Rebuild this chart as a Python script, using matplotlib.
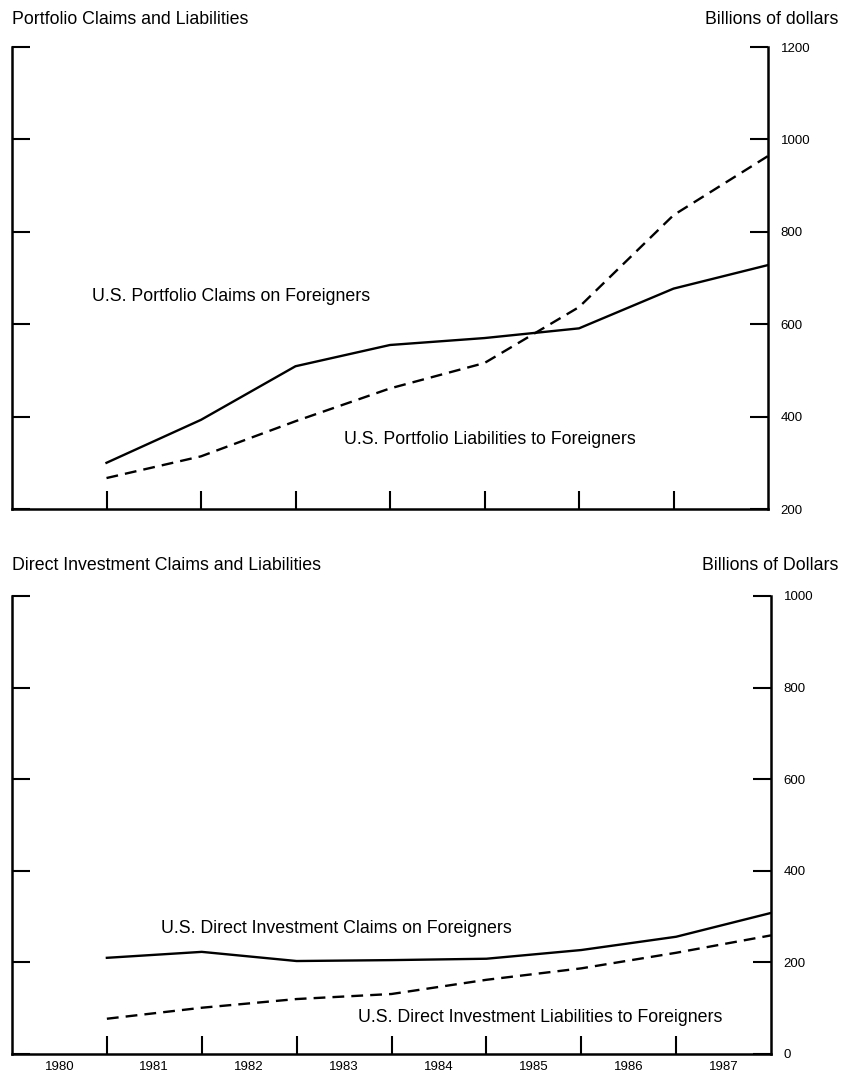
import matplotlib
matplotlib.use('Agg')
from matplotlib import pyplot as plt
import numpy as np

plt.rcParams['font.family'] = ['Liberation Sans', 'DejaVu Sans']

# year-end positions, 1980 .. 1987
years = np.array([1981, 1982, 1983, 1984, 1985, 1986, 1987, 1988])
year_labels = ['1980', '1981', '1982', '1983', '1984', '1985', '1986', '1987']

port_claims = [300, 393, 509, 555, 570, 591, 677, 728]
port_liab = [267, 314, 390, 461, 516, 637, 836, 964]

direct_claims = [210, 223, 203, 205, 208, 227, 256, 308]
direct_liab = [77, 101, 120, 131, 162, 187, 221, 259]

fig = plt.figure(figsize=(8.42, 10.78), dpi=100)
W, H = 842, 1078
FS = 12.8

def make_axes(left, right, top, bottom):
    return fig.add_axes([left / W, 1 - bottom / H, (right - left) / W, (bottom - top) / H])

def style(ax, ymin, ymax, labels_x):
    ax.set_xlim(1980, 1988)
    ax.set_ylim(ymin, ymax)
    ax.spines['top'].set_visible(False)
    for s in ['left', 'right', 'bottom']:
        ax.spines[s].set_linewidth(1.8)
    ax.set_yticks(np.arange(ymin, ymax + 1, 200))
    ax.yaxis.set_ticks_position('both')
    ax.tick_params(axis='y', direction='in', length=13, width=1.5,
                   left=True, right=True, labelleft=False, labelright=True,
                   labelsize=9.5, pad=9)
    ax.set_xticks(years[:-1])
    ax.tick_params(axis='x', which='major', direction='in', length=13, width=1.5,
                   labelbottom=False)
    if labels_x:
        ax.set_xticks(np.arange(1980.5, 1988, 1), minor=True)
        ax.set_xticklabels(year_labels, minor=True)
        ax.tick_params(axis='x', which='minor', length=0, labelsize=9.5, pad=5)

# top panel
ax1 = make_axes(12, 768, 47, 509)
ax1.plot(years, port_claims, color='black', lw=1.7)
ax1.plot(years, port_liab, color='black', lw=1.7, dashes=(5, 3))
style(ax1, 200, 1200, False)
ax1.text(1980.85, 659, 'U.S. Portfolio Claims on Foreigners', fontsize=FS, va='center')
ax1.text(1983.51, 350, 'U.S. Portfolio Liabilities to Foreigners', fontsize=FS, va='center')

# bottom panel
ax2 = make_axes(12, 771, 596, 1054)
ax2.plot(years, direct_claims, color='black', lw=1.7)
ax2.plot(years, direct_liab, color='black', lw=1.7, dashes=(5, 3))
style(ax2, 0, 1000, True)
ax2.text(1981.57, 275, 'U.S. Direct Investment Claims on Foreigners', fontsize=FS, va='center')
ax2.text(1983.65, 79, 'U.S. Direct Investment Liabilities to Foreigners', fontsize=FS, va='center')

fig.text(12 / W, 1 - 20 / H, 'Portfolio Claims and Liabilities', fontsize=FS, va='center')
fig.text(838 / W, 1 - 20 / H, 'Billions of dollars', fontsize=FS, va='center', ha='right')
fig.text(12 / W, 1 - 566 / H, 'Direct Investment Claims and Liabilities', fontsize=FS, va='center')
fig.text(838 / W, 1 - 566 / H, 'Billions of Dollars', fontsize=FS, va='center', ha='right')

fig.savefig('out.png', dpi=100)
